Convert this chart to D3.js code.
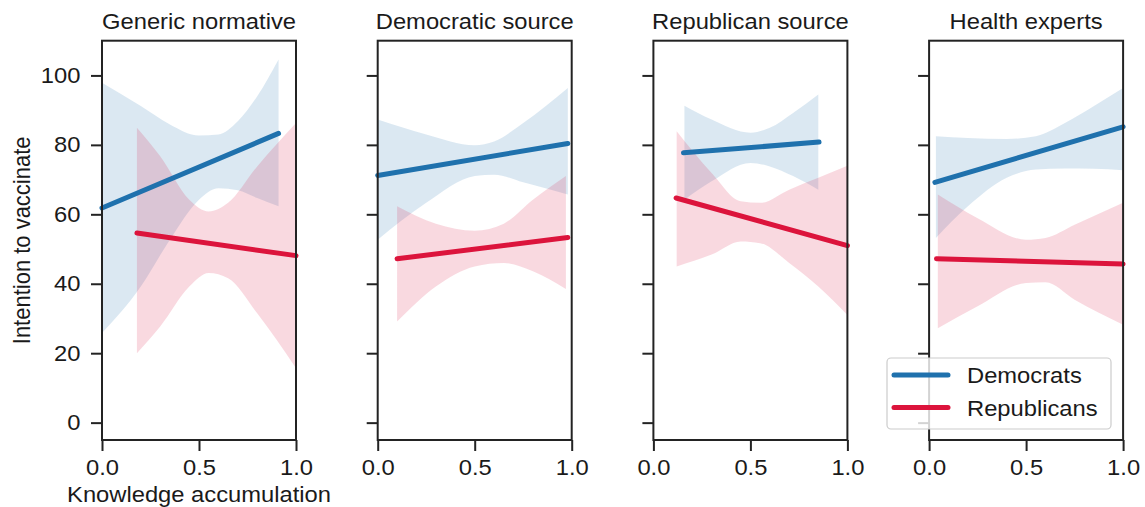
<!DOCTYPE html>
<html>
<head>
<meta charset="utf-8">
<script src="https://cdn.jsdelivr.net/npm/d3@7"></script>
<style>
  body { margin: 0; background: #fff; }
  svg { display: block; }
  text { font-family: "Liberation Sans", Arial, Helvetica, sans-serif; fill: #1a1a1a; }
</style>
</head>
<body>
<svg id="chart" width="1145" height="507"></svg>
<script>
// Panels: message source
const panelTitles = ["Generic normative", "Democratic source", "Republican source", "Health experts"];
const seriesNames = ["Democrats", "Republicans"];
const seriesColors = ["#1f71ad", "#dc143c"];

const xTickValues = [0, 0.5, 1];
const xTickLabels = ["0.0", "0.5", "1.0"];
const yTickValues = [0, 20, 40, 60, 80, 100];
const yTickLabels = ["0", "20", "40", "60", "80", "100"];
const xAxisTitle = "Knowledge accumulation";
const yAxisTitle = "Intention to vaccinate";

// Fitted regression lines: [[x start, y start], [x end, y end]] per panel
const demFit = [
  [[0.00, 61.8], [0.91, 83.3]],
  [[0.00, 71.2], [0.98, 80.4]],
  [[0.155, 77.7], [0.854, 80.8]],
  [[0.03, 69.2], [1.00, 85.2]]
];
const repFit = [
  [[0.18, 54.6], [1.00, 48.1]],
  [[0.10, 47.2], [0.98, 53.3]],
  [[0.117, 64.7], [1.00, 51.0]],
  [[0.038, 47.2], [1.00, 45.7]]
];

// Confidence bands: [x, lower, upper] per panel
const demBand = [
  [[0, 25.8, 97.9], [0.2, 39.2, 91.2], [0.35, 52.7, 85.9], [0.5, 64.2, 82.7], [0.6, 67.5, 83.0],
   [0.7, 66.9, 86.8], [0.8, 64.7, 94.0], [0.91, 62.3, 104.6]],
  [[0, 52.7, 87.3], [0.25, 63.3, 83.0], [0.5, 71.0, 79.9], [0.6, 71.4, 81.0], [0.75, 69.2, 86.3],
   [0.98, 65.7, 96.4]],
  [[0.16, 64.2, 91.3], [0.3, 69.5, 87.3], [0.5, 74.8, 83.5], [0.6, 73.8, 84.9], [0.72, 71.0, 89.2],
   [0.85, 67.1, 94.5]],
  [[0.035, 53.2, 82.5], [0.2, 62.3, 82.0], [0.4, 70.5, 81.7], [0.55, 72.9, 82.5], [0.7, 73.2, 86.3],
   [0.85, 73.1, 91.2], [1.0, 72.7, 96.4]]
];
const repBand = [
  [[0.18, 20.0, 84.9], [0.3, 27.7, 76.7], [0.45, 39.2, 64.2], [0.55, 43.1, 60.8], [0.65, 41.6, 63.3],
   [0.8, 31.5, 73.8], [1.0, 15.7, 86.3]],
  [[0.1, 29.1, 62.3], [0.3, 39.2, 57.3], [0.5, 45.0, 55.3], [0.65, 46.0, 57.3], [0.8, 43.6, 64.2],
   [0.97, 38.5, 71.0]],
  [[0.12, 45.0, 83.9], [0.3, 48.4, 71.9], [0.45, 52.2, 63.75], [0.55, 51.7, 63.3], [0.7, 46.0, 67.1],
   [0.85, 39.2, 70.5], [1.0, 31.0, 74.0]],
  [[0.045, 27.2, 65.7], [0.25, 33.5, 58.9], [0.5, 40.2, 52.7], [0.6, 40.4, 53.2], [0.75, 35.4, 57.0],
   [1.0, 28.2, 63.3]]
];

// Layout
const svg = d3.select("#chart");
const firstLeft = 102, panelStep = 275.7, panelW = 194;
const plotTop = 40.7, plotBottom = 440;
const fontSize = 22, stretch = 1.08;
const ink = "#232323";

const y = d3.scaleLinear().domain([-5, 110]).range([plotBottom, plotTop]);

const bands = [demBand, repBand];
const fits = [demFit, repFit];

panelTitles.forEach((title, i) => {
  const left = firstLeft + i * panelStep;
  const x = d3.scaleLinear().domain([0, 1]).range([left, left + panelW]);
  const g = svg.append("g");

  // confidence bands
  const area = d3.area()
    .x(d => x(d[0])).y0(d => y(d[1])).y1(d => y(d[2]))
    .curve(d3.curveMonotoneX);
  bands.forEach((b, s) => {
    g.append("path")
      .attr("d", area(b[i]))
      .attr("fill", seriesColors[s])
      .attr("fill-opacity", 0.16)
      .attr("stroke", "none");
  });

  // fitted lines
  const line = d3.line().x(d => x(d[0])).y(d => y(d[1]));
  fits.forEach((f, s) => {
    g.append("path")
      .attr("d", line(f[i]))
      .attr("fill", "none")
      .attr("stroke", seriesColors[s])
      .attr("stroke-width", 5)
      .attr("stroke-linecap", "round");
  });

  // frame
  g.append("rect")
    .attr("x", x(0)).attr("y", plotTop)
    .attr("width", x(1) - x(0)).attr("height", plotBottom - plotTop)
    .attr("fill", "none").attr("stroke", ink).attr("stroke-width", 2);

  // axes
  const xAxis = d3.axisBottom(x).tickValues(xTickValues)
    .tickFormat((d, k) => xTickLabels[k]).tickSize(11).tickPadding(8);
  const gx = g.append("g").attr("transform", `translate(0,${plotBottom})`).call(xAxis);

  const yAxis = d3.axisLeft(y).tickValues(yTickValues)
    .tickFormat((d, k) => i === 0 ? yTickLabels[k] : "").tickSize(11).tickPadding(9);
  const gy = g.append("g").attr("transform", `translate(${x(0)},0)`).call(yAxis);

  [gx, gy].forEach(ax => {
    ax.select(".domain").remove();
    ax.selectAll(".tick line").attr("stroke", ink).attr("stroke-width", 2);
    ax.selectAll(".tick text")
      .attr("fill", "#1a1a1a")
      .style("font-size", fontSize + "px")
      .style("font-family", '"Liberation Sans", Arial, Helvetica, sans-serif')
      .attr("transform", `scale(${stretch},1)`);
  });

  // title
  g.append("text")
    .attr("text-anchor", "middle")
    .attr("transform", `translate(${(x(0) + x(1)) / 2},29) scale(${stretch},1)`)
    .style("font-size", fontSize + "px")
    .text(title);

  if (i === 0) {
    g.append("text")
      .attr("text-anchor", "middle")
      .attr("transform", `translate(${(x(0) + x(1)) / 2},502) scale(${stretch},1)`)
      .style("font-size", fontSize + "px")
      .text(xAxisTitle);
    g.append("text")
      .attr("text-anchor", "middle")
      .attr("transform", `translate(30,${(plotTop + plotBottom) / 2}) rotate(-90) scale(1,${stretch})`)
      .style("font-size", fontSize + "px")
      .text(yAxisTitle);
  }
});

// legend
const leg = svg.append("g");
leg.append("rect")
  .attr("x", 887).attr("y", 358).attr("width", 224).attr("height", 71).attr("rx", 4)
  .attr("fill", "#fff").attr("fill-opacity", 0.8)
  .attr("stroke", "#cccccc").attr("stroke-width", 1.2);
seriesNames.forEach((name, s) => {
  const ly = 375 + s * 32.5;
  leg.append("line")
    .attr("x1", 894).attr("x2", 948).attr("y1", ly).attr("y2", ly)
    .attr("stroke", seriesColors[s]).attr("stroke-width", 5).attr("stroke-linecap", "round");
  leg.append("text")
    .attr("transform", `translate(967,${ly + 8}) scale(${stretch},1)`)
    .style("font-size", fontSize + "px")
    .text(name);
});
</script>
</body>
</html>
